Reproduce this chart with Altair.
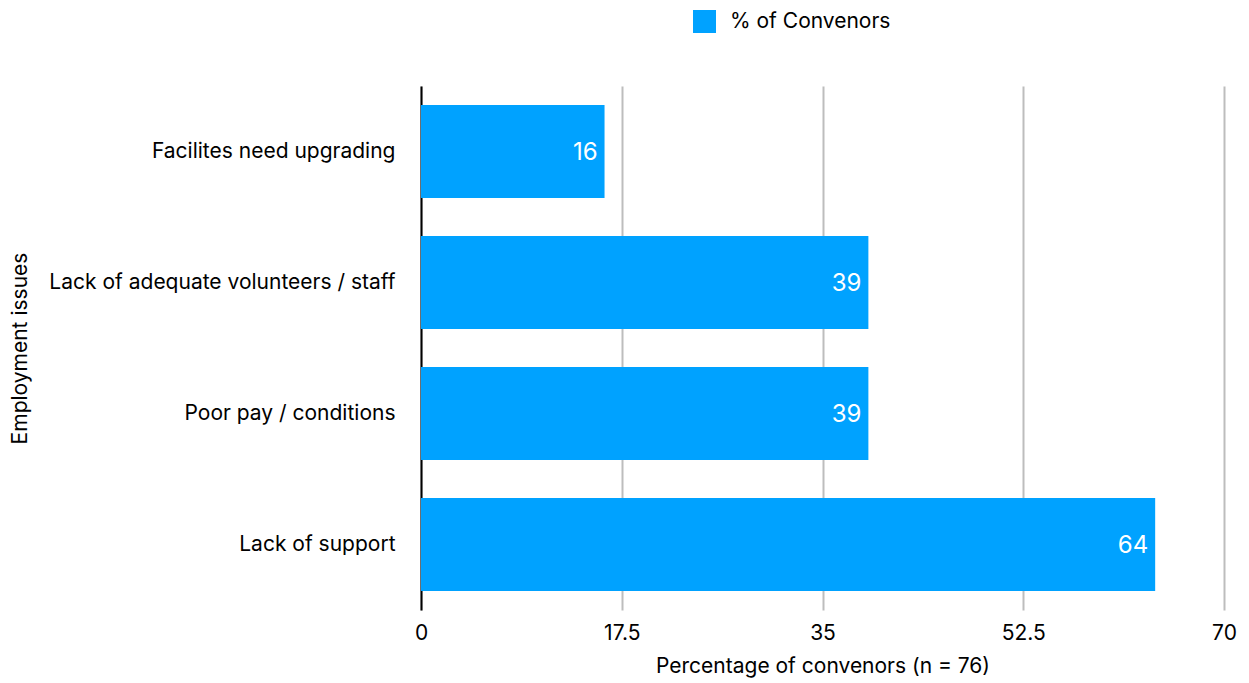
import altair as alt
import pandas as pd

categories = ["Facilites need upgrading", "Lack of adequate volunteers / staff",
              "Poor pay / conditions", "Lack of support"]
values = [16, 39, 39, 64]
series_name = "% of Convenors"
x_ticks = [0, 17.5, 35, 52.5, 70]

df = pd.DataFrame({"issue": categories, "value": values, "series": [series_name] * len(values)})

FONT = "Inter"
FS = 21

base = alt.Chart(df).encode(
    y=alt.Y("issue:N", sort=categories,
            scale=alt.Scale(paddingInner=0.29, paddingOuter=0.145),
            axis=alt.Axis(title="Employment issues", labelFontSize=FS, titleFontSize=FS,
                          labelFont=FONT, titleFont=FONT, titleFontWeight="normal",
                          labelColor="black", titleColor="black", labelLimit=400,
                          ticks=False, labelPadding=26,
                          titleX=-401, titleY=262, titleBaseline="middle", titleAlign="center",
                          domain=True, domainColor="black", domainWidth=2, grid=False)),
)

bars = base.mark_bar(color="#00A2FF").encode(
    x=alt.X("value:Q", scale=alt.Scale(domain=[0, 70], nice=False),
            axis=alt.Axis(title="Percentage of convenors (n = 76)", values=x_ticks, format=".1~f",
                          labelFontSize=FS, titleFontSize=FS, labelFont=FONT, titleFont=FONT,
                          titleFontWeight="normal", labelColor="black", titleColor="black",
                          ticks=False, domain=False, labelPadding=12, titlePadding=12,
                          grid=True, gridColor="#BDBDBD", gridWidth=2, labelFlush=False)),
    color=alt.Color("series:N", scale=alt.Scale(range=["#00A2FF"]),
                    legend=alt.Legend(title=None, orient="none", legendX=272, legendY=-76,
                                      symbolType="square", symbolSize=529,
                                      symbolStrokeWidth=0, labelFontSize=FS, labelFont=FONT,
                                      labelColor="black", labelOffset=14, labelLimit=400)),
)

labels = base.mark_text(align="right", baseline="middle", dx=-7, dy=1, color="white",
                        fontSize=24, font=FONT).encode(
    x=alt.X("value:Q"),
    text=alt.Text("value:Q"),
)

chart = (bars + labels).properties(
    width=803, height=524,
    autosize=alt.AutoSizeParams(type="none"),
    padding={"left": 413, "top": 78, "right": 17, "bottom": 73},
).configure_view(stroke=None)

chart.save("out.html", embed_options={"renderer": "svg", "actions": False})
